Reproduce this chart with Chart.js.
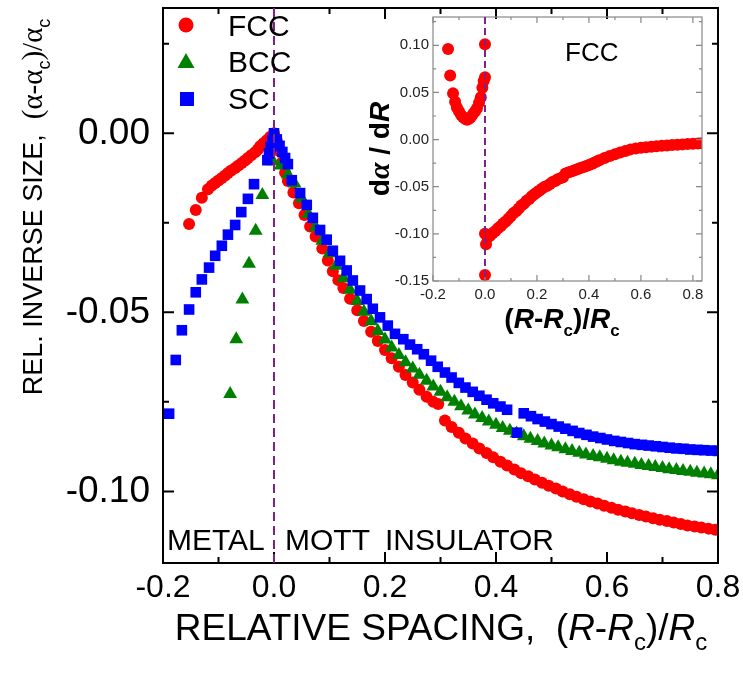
<!DOCTYPE html>
<html><head><meta charset="utf-8">
<script src="https://cdn.jsdelivr.net/npm/chart.js@4.4.1/dist/chart.umd.min.js"></script>
<style>
body{margin:0;background:#fff}
#wrap{position:relative;width:743px;height:673px;overflow:hidden}
canvas{position:absolute}
</style></head>
<body><div id="wrap">
<canvas id="main" width="743" height="673" style="left:0;top:0"></canvas>
<canvas id="inset" width="360" height="345" style="left:360px;top:0"></canvas>
</div>
<script>
// ---------- data: main panel ----------
const fccX = [-0.153,-0.141,-0.130,-0.119,-0.112,-0.106,-0.100,-0.094,-0.088,-0.083,-0.077,-0.070,-0.064,-0.058,-0.052,-0.047,-0.041,-0.034,-0.029,-0.025,-0.019,-0.013,-0.007,0.000,
 0.005,0.010,0.015,0.020,0.025,0.035,0.045,0.055,0.065,0.075,0.087,0.097,0.106,0.116,0.125,0.137,0.150,0.162,0.175,0.187,0.200,0.212,0.225,0.237,0.250,0.262,0.275,0.287,0.296,
 0.308,0.320,0.333,0.345,0.358,0.370,0.383,0.395,0.408,0.420,0.433,0.445,0.458,0.470,0.483,0.495,0.508,0.520,0.533,0.545,0.558,0.570,0.583,0.595,0.608,0.620,0.633,0.645,0.658,0.670,0.683,0.695,0.708,0.720,0.733,0.745,0.758,0.770,0.783,0.795];
const fccY = [-0.0253,-0.0214,-0.0180,-0.0156,-0.0146,-0.0139,-0.0132,-0.0125,-0.0118,-0.0111,-0.0104,-0.0097,-0.0090,-0.0083,-0.0076,-0.0069,-0.0061,-0.0053,-0.0045,-0.0036,-0.0028,-0.0019,-0.0010,0.0000,
 -0.0020,-0.0050,-0.0080,-0.0110,-0.0133,-0.0165,-0.0195,-0.0228,-0.0260,-0.0288,-0.0322,-0.0355,-0.0385,-0.0410,-0.0432,-0.0462,-0.0494,-0.0524,-0.0554,-0.0580,-0.0605,-0.0628,-0.0652,-0.0675,-0.0696,-0.0716,-0.0736,-0.0750,-0.0756,
 -0.0802,-0.0820,-0.0836,-0.0852,-0.0866,-0.0880,-0.0893,-0.0905,-0.0917,-0.0928,-0.0939,-0.0949,-0.0958,-0.0967,-0.0976,-0.0984,-0.0992,-0.1000,-0.1008,-0.1015,-0.1022,-0.1028,-0.1034,-0.1040,-0.1046,-0.1051,-0.1056,-0.1061,-0.1066,-0.1070,-0.1075,-0.1079,-0.1083,-0.1087,-0.1091,-0.1095,-0.1098,-0.1101,-0.1104,-0.1107];

const bccX = [-0.079,-0.068,-0.057,-0.045,-0.033,-0.021,-0.002,
 0.012,0.025,0.037,0.050,0.062,0.075,0.087,0.100,0.112,0.125,0.137,0.150,0.162,0.175,0.187,0.200,0.212,0.225,0.237,0.250,0.262,0.275,0.287,0.300,0.312,0.325,0.337,0.350,0.362,0.375,0.387,0.400,0.412,0.425,0.437,0.450,0.462,0.475,0.487,0.500,0.512,0.525,0.537,0.550,0.562,0.575,0.587,0.600,0.612,0.625,0.637,0.650,0.662,0.675,0.687,0.700,0.712,0.725,0.737,0.750,0.762,0.775,0.787,0.800];
const bccY = [-0.0728,-0.0575,-0.0464,-0.0364,-0.0272,-0.0172,-0.0078,
 -0.0090,-0.0115,-0.0140,-0.0182,-0.0225,-0.0262,-0.0300,-0.0335,-0.0370,-0.0405,-0.0437,-0.0468,-0.0498,-0.0525,-0.0552,-0.0576,-0.0598,-0.0619,-0.0639,-0.0657,-0.0674,-0.0691,-0.0707,-0.0722,-0.0737,-0.0750,-0.0762,-0.0774,-0.0785,-0.0795,-0.0805,-0.0814,-0.0823,-0.0831,-0.0838,-0.0846,-0.0853,-0.0859,-0.0866,-0.0872,-0.0877,-0.0882,-0.0887,-0.0892,-0.0897,-0.0901,-0.0905,-0.0909,-0.0913,-0.0917,-0.0920,-0.0923,-0.0926,-0.0929,-0.0932,-0.0935,-0.0938,-0.0940,-0.0943,-0.0945,-0.0948,-0.0950,-0.0952,-0.0955];

const scX = [-0.189,-0.177,-0.166,-0.153,-0.141,-0.130,-0.117,-0.106,-0.094,-0.083,-0.070,-0.059,-0.047,-0.036,-0.012,-0.009,-0.006,-0.003,0.000,
 0.005,0.010,0.015,0.020,0.025,0.032,0.047,0.059,0.070,0.083,0.095,0.106,0.119,0.131,0.142,0.155,0.167,0.178,0.191,0.205,0.218,0.233,0.245,0.258,0.270,0.283,0.295,0.308,0.320,0.333,0.345,0.358,0.370,0.383,0.395,0.408,0.420,0.438,
 0.450,0.463,0.475,0.488,0.500,0.513,0.525,0.538,0.550,0.563,0.575,0.588,0.600,0.613,0.625,0.638,0.650,0.663,0.675,0.688,0.700,0.713,0.725,0.738,0.750,0.763,0.775,0.788,0.800];
const scY = [-0.0783,-0.0633,-0.0550,-0.0492,-0.0444,-0.0408,-0.0375,-0.0342,-0.0314,-0.0283,-0.0256,-0.0220,-0.0183,-0.0142,-0.0075,-0.0056,-0.0038,-0.0019,0.0000,
 -0.0017,-0.0035,-0.0052,-0.0069,-0.0086,-0.0131,-0.0167,-0.0200,-0.0236,-0.0270,-0.0297,-0.0328,-0.0356,-0.0383,-0.0411,-0.0439,-0.0463,-0.0490,-0.0514,-0.0537,-0.0560,-0.0575,-0.0590,-0.0603,-0.0617,-0.0635,-0.0652,-0.0668,-0.0682,-0.0697,-0.0710,-0.0722,-0.0733,-0.0744,-0.0754,-0.0763,-0.0772,-0.0836,
 -0.0782,-0.0790,-0.0798,-0.0805,-0.0812,-0.0819,-0.0825,-0.0831,-0.0837,-0.0842,-0.0847,-0.0851,-0.0855,-0.0859,-0.0862,-0.0865,-0.0868,-0.0870,-0.0872,-0.0874,-0.0876,-0.0878,-0.0880,-0.0881,-0.0883,-0.0884,-0.0885,-0.0886,-0.0887];

// ---------- data: inset (FCC dα/dR) ----------
const insetX = [-0.142,-0.134,-0.123,-0.115,-0.108,-0.100,-0.092,-0.085,-0.077,-0.069,-0.061,-0.054,-0.046,-0.038,-0.031,-0.023,-0.016,-0.010,-0.005,0.000,0.000,
 0.000,0.000,0.004,0.010,0.020,0.030,0.040,0.050,0.060,0.070,0.080,0.090,0.100,0.110,0.120,0.130,0.140,0.150,0.160,0.170,0.180,0.190,0.200,0.210,0.220,0.230,0.240,0.250,0.260,0.270,0.280,0.290,0.300,
 0.310,0.320,0.330,0.340,0.350,0.360,0.370,0.380,0.390,0.400,0.410,0.420,0.430,0.440,0.460,0.480,0.500,0.520,0.540,0.560,0.580,0.600,0.620,0.640,0.660,0.680,0.700,0.720,0.740,0.760,0.780,0.800,0.820,0.835];
const insetY = [0.096,0.068,0.049,0.040,0.034,0.030,0.026,0.024,0.022,0.021,0.022,0.024,0.027,0.030,0.033,0.039,0.045,0.055,0.062,0.066,0.101,
 -0.1436,-0.100,-0.111,-0.104,-0.102,-0.099,-0.097,-0.094,-0.092,-0.089,-0.087,-0.084,-0.081,-0.078,-0.076,-0.073,-0.070,-0.068,-0.065,-0.063,-0.060,-0.058,-0.056,-0.054,-0.052,-0.050,-0.049,-0.047,-0.045,-0.044,-0.042,-0.041,-0.040,
 -0.036,-0.035,-0.034,-0.033,-0.032,-0.031,-0.030,-0.029,-0.028,-0.027,-0.026,-0.0245,-0.0232,-0.0220,-0.0195,-0.0173,-0.0155,-0.0138,-0.0122,-0.0104,-0.0095,-0.0088,-0.0081,-0.0075,-0.0070,-0.0066,-0.0062,-0.0058,-0.0054,-0.0051,-0.0048,-0.0045,-0.0042,-0.0040];

// ---------- ticks ----------
const xTickVals = [-0.2,0,0.2,0.4,0.6,0.8];
const xTickLabels = ['-0.2','0.0','0.2','0.4','0.6','0.8'];
const xMinorVals = [-0.1,0.1,0.3,0.5,0.7];
const yTickVals = [0,-0.05,-0.10];
const yTickLabels = ['0.00','-0.05','-0.10'];
const yMinorVals = [0.025,-0.025,-0.075];
const inXTickVals = [-0.2,0,0.2,0.4,0.6,0.8];
const inXTickLabels = ['-0.2','0.0','0.2','0.4','0.6','0.8'];
const inXMinorVals = [-0.1,0.1,0.3,0.5,0.7];
const inYTickVals = [0.10,0.05,0,-0.05,-0.10,-0.15];
const inYTickLabels = ['0.10','0.05','0.00','-0.05','-0.10','-0.15'];
const inYMinorVals = [0.125,0.075,0.025,-0.025,-0.075,-0.125];

const SANS = "'Liberation Sans', Arial, sans-serif";
const SERIF = "'Liberation Serif', 'Times New Roman', serif";
Chart.defaults.font.family = SANS;

const pts = (xs, ys) => xs.map((x, i) => ({x, y: ys[i]}));

function drawRich(ctx, parts, x, y) {
  let w = 0;
  parts.forEach(p => { ctx.font = p.f; w += ctx.measureText(p.t).width; });
  let cx = x - w / 2;
  ctx.textAlign = 'left'; ctx.textBaseline = 'alphabetic';
  parts.forEach(p => { ctx.font = p.f; ctx.fillText(p.t, cx, y + (p.dy || 0)); cx += ctx.measureText(p.t).width; });
}

function frameTicks(chart, o) {
  const {ctx, chartArea: a} = chart;
  const sx = chart.scales.x, sy = chart.scales.y;
  ctx.save();
  ctx.strokeStyle = o.color; ctx.lineWidth = o.lw;
  ctx.beginPath();
  const xt = (v, len) => { const p = sx.getPixelForValue(v); ctx.moveTo(p, a.bottom); ctx.lineTo(p, a.bottom - len); ctx.moveTo(p, a.top); ctx.lineTo(p, a.top + len); };
  const yt = (v, len) => { const p = sy.getPixelForValue(v); ctx.moveTo(a.left, p); ctx.lineTo(a.left + len, p); ctx.moveTo(a.right, p); ctx.lineTo(a.right - len, p); };
  o.xMaj.forEach(v => xt(v, o.maj)); o.xMin.forEach(v => xt(v, o.min));
  o.yMaj.forEach(v => yt(v, o.maj)); o.yMin.forEach(v => yt(v, o.min));
  ctx.stroke();
  ctx.strokeRect(a.left, a.top, a.right - a.left, a.bottom - a.top);
  const x0 = sx.getPixelForValue(0);
  ctx.strokeStyle = '#80208a'; ctx.lineWidth = 2; ctx.setLineDash(o.dash);
  ctx.beginPath(); ctx.moveTo(x0, a.top); ctx.lineTo(x0, a.bottom); ctx.stroke();
  ctx.restore();
}

const mainPlugin = {
  id: 'mainDecor',
  afterDatasetsDraw(chart) {
    const ctx = chart.ctx;
    frameTicks(chart, {color: '#000', lw: 2, maj: 11, min: 6, xMaj: xTickVals, xMin: xMinorVals, yMaj: yTickVals, yMin: yMinorVals, dash: [9, 5]});
    ctx.save();
    // legend
    ctx.fillStyle = '#ff0000'; ctx.beginPath(); ctx.arc(186, 25, 7.5, 0, Math.PI * 2); ctx.fill();
    ctx.fillStyle = '#008000'; ctx.beginPath(); ctx.moveTo(186, 53); ctx.lineTo(194.5, 68); ctx.lineTo(177.5, 68); ctx.closePath(); ctx.fill();
    ctx.fillStyle = '#0000ff'; ctx.fillRect(180, 92, 14, 14);
    ctx.fillStyle = '#000';
    ctx.font = '30px ' + SANS; ctx.textAlign = 'left'; ctx.textBaseline = 'alphabetic';
    ctx.fillText('FCC', 228, 36); ctx.fillText('BCC', 228, 72); ctx.fillText('SC', 228, 109);
    // region labels
    ctx.fillText('METAL', 167, 550);
    ctx.fillText('MOTT', 285, 550);
    ctx.fillText('INSULATOR', 385, 550);
    // x title
    const f = '37px ' + SANS, fi = 'italic 37px ' + SANS, fs = '24px ' + SANS;
    drawRich(ctx, [{t: 'RELATIVE SPACING,  (', f}, {t: 'R', f: fi}, {t: '-', f}, {t: 'R', f: fi}, {t: 'c', f: fs, dy: 10}, {t: ')/', f}, {t: 'R', f: fi}, {t: 'c', f: fs, dy: 10}], 441, 640);
    // y title
    ctx.translate(32, 207); ctx.rotate(-Math.PI / 2);
    const h = '27px ' + SANS, g = '29px ' + SERIF, hs = '18px ' + SANS;
    drawRich(ctx, [{t: 'REL. INVERSE SIZE,  ', f: h}, {t: '(\u03b1-\u03b1', f: g}, {t: 'c', f: hs, dy: 8}, {t: ')/\u03b1', f: g}, {t: 'c', f: hs, dy: 8}], 0, 10);
    ctx.restore();
  }
};

new Chart(document.getElementById('main'), {
  type: 'scatter',
  data: {datasets: [
    {label: 'SC', data: pts(scX, scY), pointStyle: 'rect', pointRadius: 7.5, backgroundColor: '#0000ff', pointBorderWidth: 0, borderWidth: 0, order: 1, clip: 0},
    {label: 'BCC', data: pts(bccX, bccY), pointStyle: 'triangle', pointRadius: 8, backgroundColor: '#008000', pointBorderWidth: 0, borderWidth: 0, order: 2, clip: 0},
    {label: 'FCC', data: pts(fccX, fccY), pointStyle: 'circle', pointRadius: 6, backgroundColor: '#ff0000', pointBorderWidth: 0, borderWidth: 0, order: 3, clip: 0}
  ]},
  options: {
    responsive: false, animation: false, devicePixelRatio: 1,
    layout: {padding: {left: 0, top: 5, right: 25, bottom: 0}},
    plugins: {legend: {display: false}, tooltip: {enabled: false}},
    elements: {point: {hoverRadius: 0}},
    scales: {
      x: {type: 'linear', min: -0.2, max: 0.8, grid: {display: false, drawTicks: false}, border: {display: false},
          afterBuildTicks: s => { s.ticks = xTickVals.map(v => ({value: v})); },
          afterFit: s => { s.height = 110; s.paddingLeft = 0; s.paddingRight = 0; },
          ticks: {autoSkip: false, maxRotation: 0, padding: 6, color: '#000', font: {size: 32}, callback: (v, i) => xTickLabels[i]}},
      y: {type: 'linear', min: -0.12, max: 0.035, grid: {display: false, drawTicks: false}, border: {display: false},
          afterBuildTicks: s => { s.ticks = yTickVals.map(v => ({value: v})); },
          afterFit: s => { s.width = 163; s.paddingTop = 0; s.paddingBottom = 0; },
          ticks: {autoSkip: false, padding: 13, color: '#000', font: {size: 37}, callback: (v, i) => yTickLabels[i]}}
    }
  },
  plugins: [mainPlugin]
});

const insetPlugin = {
  id: 'insetDecor',
  afterDatasetsDraw(chart) {
    const ctx = chart.ctx;
    frameTicks(chart, {color: '#888', lw: 1.2, maj: 6, min: 3, xMaj: inXTickVals, xMin: inXMinorVals, yMaj: inYTickVals, yMin: inYMinorVals, dash: [7, 4]});
    ctx.save();
    ctx.fillStyle = '#000';
    ctx.font = '26px ' + SANS; ctx.textAlign = 'left';
    ctx.fillText('FCC', 205, 61);
    const b = 'bold 28px ' + SANS, bi = 'bold italic 28px ' + SANS, bs = 'bold 17px ' + SANS;
    drawRich(ctx, [{t: '(', f: b}, {t: 'R', f: bi}, {t: '-', f: b}, {t: 'R', f: bi}, {t: 'c', f: bs, dy: 8}, {t: ')/', f: b}, {t: 'R', f: bi}, {t: 'c', f: bs, dy: 8}], 202, 328);
    ctx.translate(29, 149); ctx.rotate(-Math.PI / 2);
    drawRich(ctx, [{t: 'd', f: b}, {t: '\u03b1', f: 'bold italic 30px ' + SERIF}, {t: ' / d', f: b}, {t: 'R', f: bi}], 0, 0);
    ctx.restore();
  }
};

new Chart(document.getElementById('inset'), {
  type: 'scatter',
  data: {datasets: [
    {label: 'FCC', data: pts(insetX, insetY), pointStyle: 'circle', pointRadius: 6, backgroundColor: '#ff0000', pointBorderWidth: 0, borderWidth: 0, clip: 0}
  ]},
  options: {
    responsive: false, animation: false, devicePixelRatio: 1,
    layout: {padding: {left: 0, top: 17, right: 18, bottom: 0}},
    plugins: {legend: {display: false}, tooltip: {enabled: false}},
    elements: {point: {hoverRadius: 0}},
    scales: {
      x: {type: 'linear', min: -0.2, max: 0.835, grid: {display: false, drawTicks: false}, border: {display: false},
          afterBuildTicks: s => { s.ticks = inXTickVals.map(v => ({value: v})); },
          afterFit: s => { s.height = 64; s.paddingLeft = 0; s.paddingRight = 0; },
          ticks: {autoSkip: false, maxRotation: 0, padding: 5, color: '#222', font: {size: 15}, callback: (v, i) => inXTickLabels[i]}},
      y: {type: 'linear', min: -0.15, max: 0.13, grid: {display: false, drawTicks: false}, border: {display: false},
          afterBuildTicks: s => { s.ticks = inYTickVals.map(v => ({value: v})); },
          afterFit: s => { s.width = 73; s.paddingTop = 0; s.paddingBottom = 0; },
          ticks: {autoSkip: false, padding: 4, color: '#222', font: {size: 15}, callback: (v, i) => inYTickLabels[i]}}
    }
  },
  plugins: [insetPlugin]
});
</script>
</body></html>
